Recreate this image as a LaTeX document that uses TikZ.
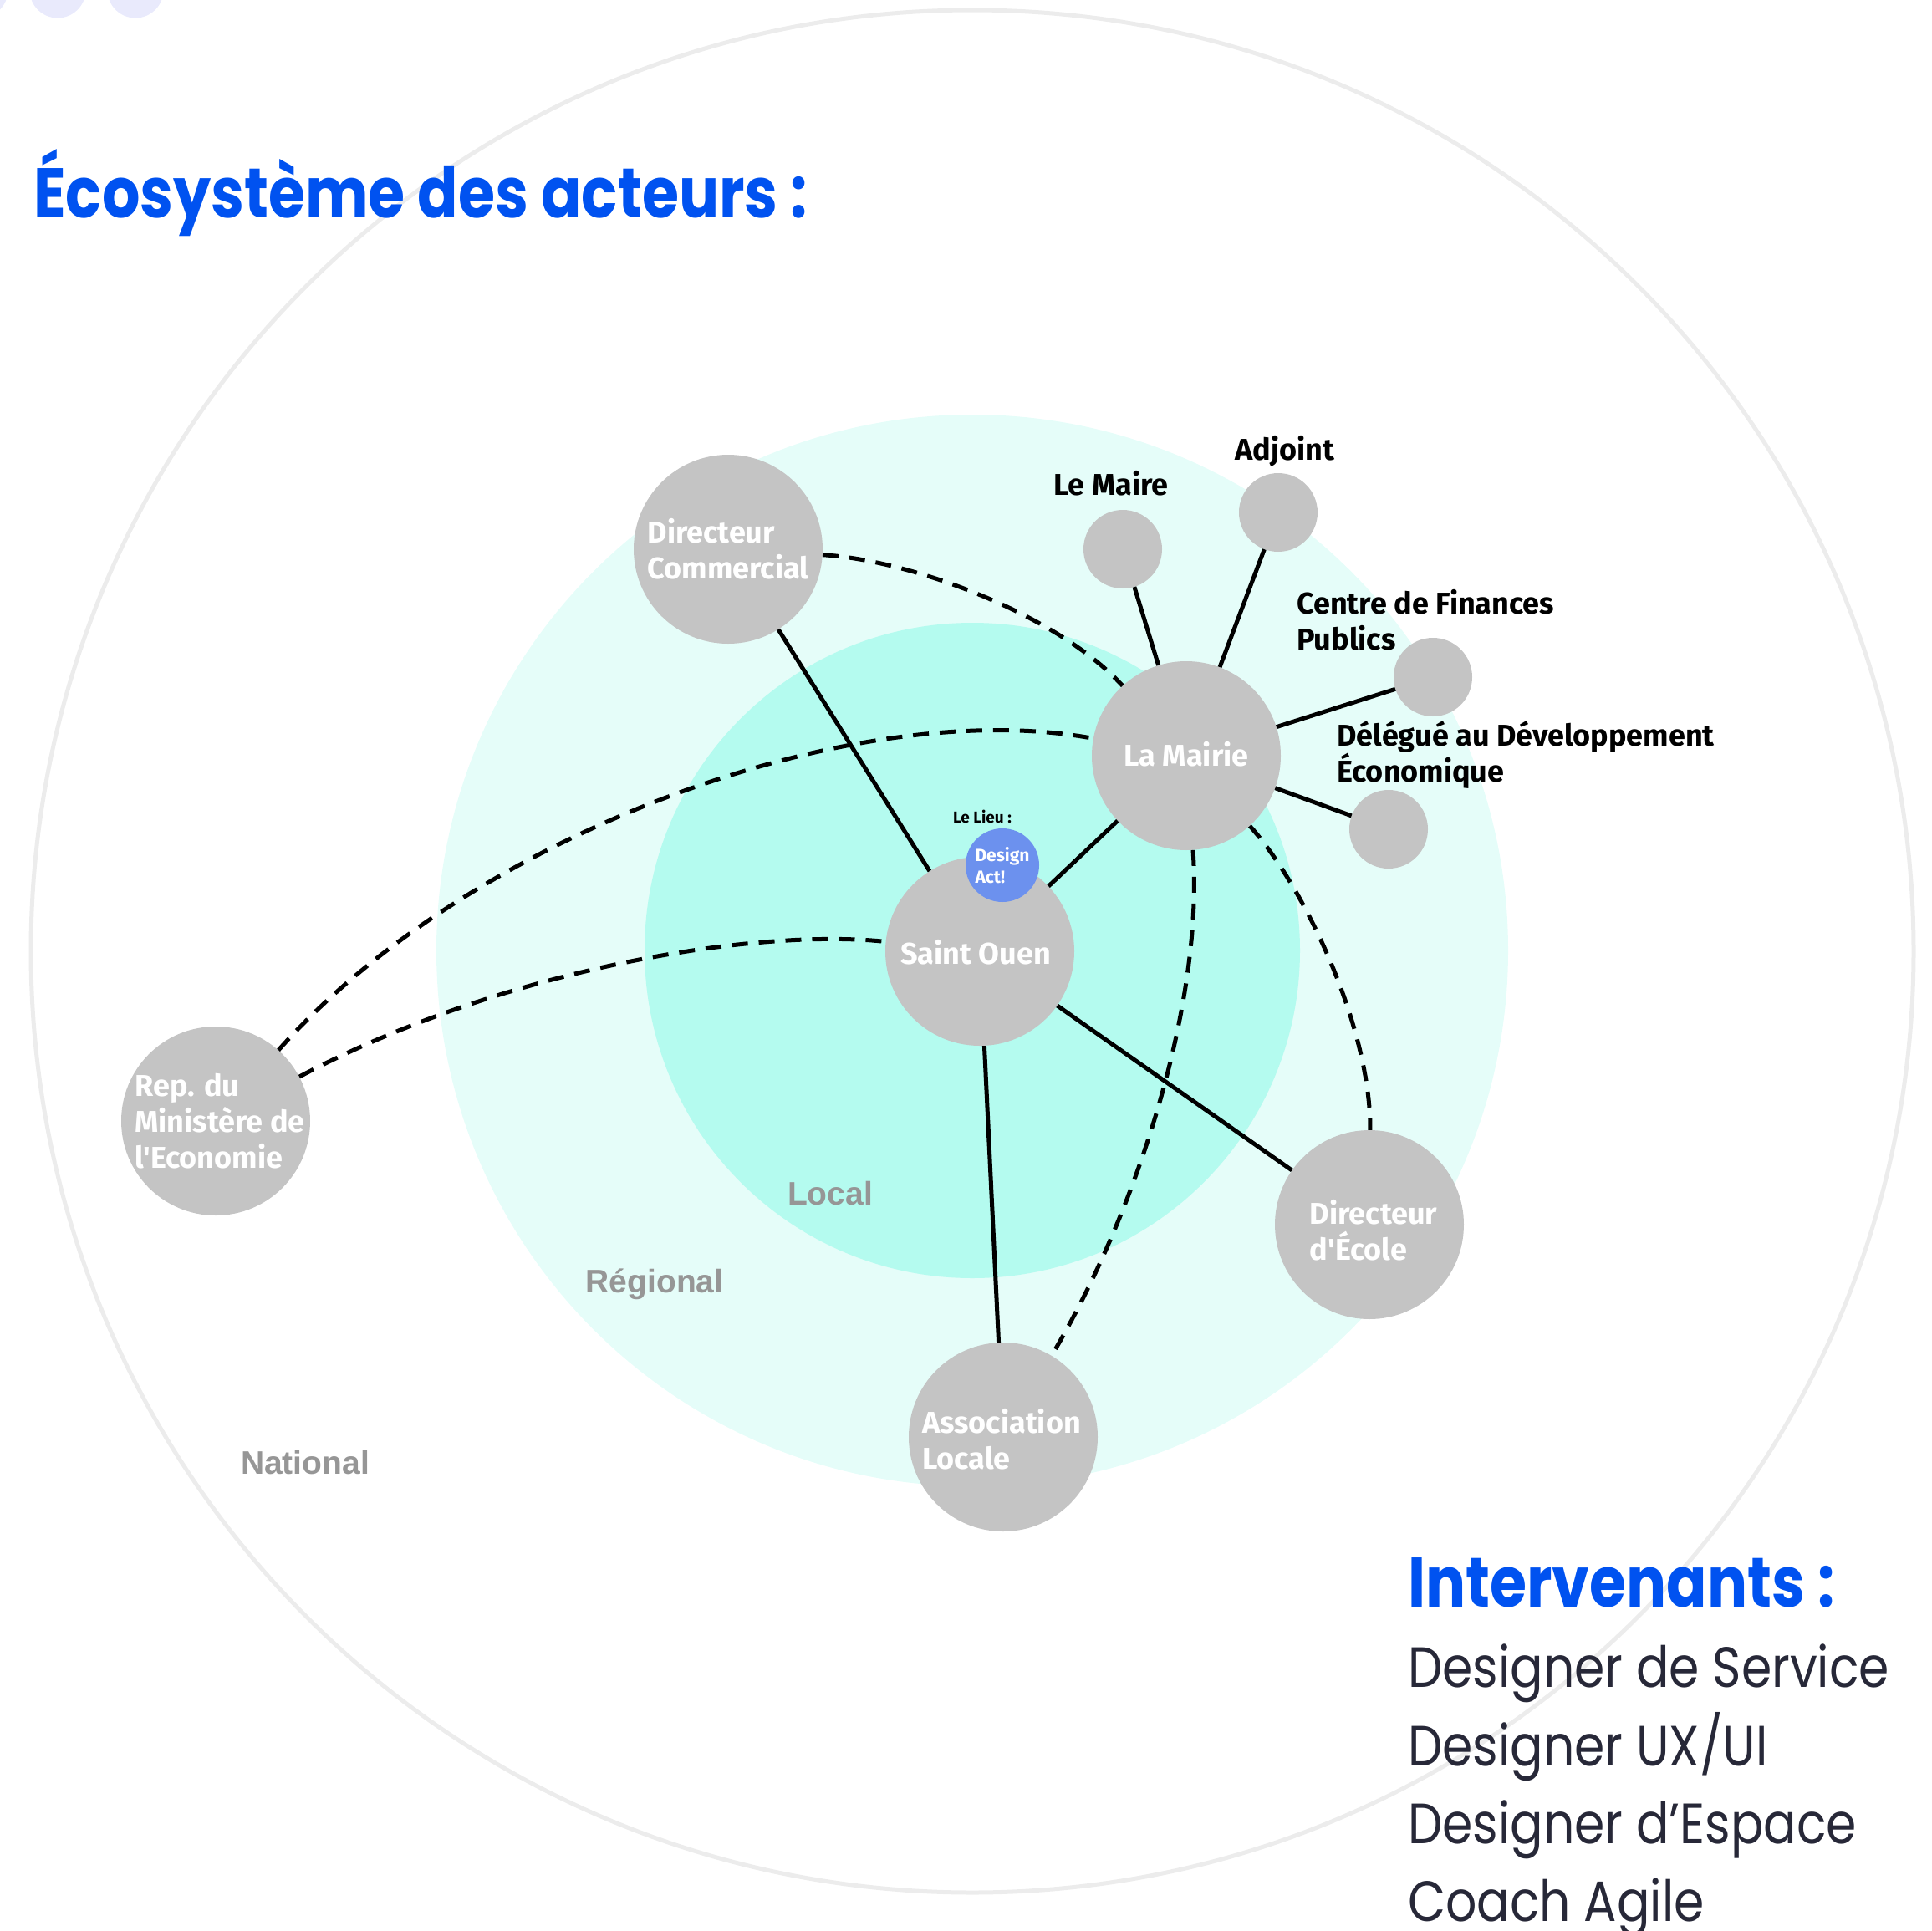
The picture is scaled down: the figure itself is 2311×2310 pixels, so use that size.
\documentclass[tikz,border=0pt]{standalone}
\usepackage{fontspec}
\newfontfamily\lblfont{Fira Sans}
\newfontfamily\zonefont{Liberation Sans}
\newfontfamily\headfont[FakeStretch=0.85]{Poppins}
\newfontfamily\listfont[FakeStretch=0.86]{Poppins}
\definecolor{nodegray}{RGB}{196,196,196}
\definecolor{regionfill}{RGB}{229,253,249}
\definecolor{localfill}{RGB}{180,251,239}
\definecolor{ringgray}{RGB}{236,236,236}
\definecolor{zonegray}{RGB}{150,150,150}
\definecolor{lieublue}{RGB}{108,145,238}
\definecolor{headblue}{RGB}{0,82,240}
\definecolor{listnavy}{RGB}{39,40,56}
\definecolor{lavender}{RGB}{233,234,252}
\begin{document}
\begin{tikzpicture}[x=1pt,y=1pt,
  actor/.style={circle, fill=nodegray, minimum size=226pt, inner sep=0pt},
  minor/.style={circle, fill=nodegray, minimum size=94pt, inner sep=0pt},
  lieu/.style={circle, fill=lieublue, minimum size=88pt, inner sep=0pt},
  inlabel/.style={text=white, align=left, inner sep=0pt, font=\lblfont\bfseries\fontsize{36}{43}\selectfont},
  outlabel/.style={text=black, align=left, inner sep=0pt, font=\lblfont\bfseries\fontsize{36}{43}\selectfont},
  zone/.style={text=zonegray, inner sep=0pt, font=\zonefont\bfseries\fontsize{39}{44}\selectfont},
  heading/.style={anchor=base west, inner sep=0pt, text=headblue, font=\headfont\bfseries\fontsize{84}{90}\selectfont},
  listitem/.style={anchor=base west, inner sep=0pt, text=listnavy, font=\listfont\fontsize{68}{94}\selectfont},
  tie/.style={line width=5pt},
  loose/.style={line width=5pt, dash pattern=on 19pt off 13pt}]
\useasboundingbox (0,0) rectangle (2311,-2310);
\clip (0,0) rectangle (2311,-2310);

% decorative dots along the top edge
\foreach \cx in {-24,69,162}
  \fill[lavender] (\cx,12) circle (33.5);

% concentric zones
\draw[ringgray, line width=5pt] (1163,-1138) circle (1126);
\fill[regionfill] (1163,-1137) circle (641);
\fill[localfill] (1163,-1137) circle (392);

% zone names
\node[zone] (zlocal) at (993,-1428) {Local};
\node[zone] (zregion) at (783,-1536) {Régional};
\node[zone] (znation) at (365,-1750) {National};

% actors
\node[actor] (dc) at (871,-657) {};
\node[actor] (lm) at (1419,-904) {};
\node[actor] (so) at (1172,-1138) {};
\node[actor] (rep) at (258,-1341) {};
\node[actor] (de) at (1638,-1465) {};
\node[actor] (al) at (1200,-1719) {};

\node[minor] (maire) at (1343,-657) {};
\node[minor] (adj) at (1529,-613) {};
\node[minor] (cfp) at (1714,-810) {};
\node[minor] (deleg) at (1661,-992) {};

% direct links
\draw[tie] (so) -- (dc);
\draw[tie] (so) -- (lm);
\draw[tie] (so) -- (al);
\draw[tie] (so) -- (de);
\draw[tie] (lm) -- (maire);
\draw[tie] (lm) -- (adj);
\draw[tie] (lm) -- (cfp);
\draw[tie] (lm) -- (deleg);

% indirect links
\draw[loose] (dc) .. controls (1090,-670) and (1265,-735) .. (lm);
\draw[loose] (rep) .. controls (560,-1000) and (1020,-830) .. (lm);
\draw[loose] (rep) .. controls (600,-1160) and (900,-1110) .. (so);
\draw[loose] (lm) .. controls (1440,-1200) and (1360,-1450) .. (al);
\draw[loose] (lm) .. controls (1560,-1060) and (1640,-1230) .. (de);

% actor names
\node[inlabel] (tdc) at (dc) {Directeur\\Commercial};
\node[inlabel] (tlm) at (1419,-902) {La Mairie};
\node[inlabel] (tso) at (1167,-1139) {Saint Ouen};
\node[inlabel] (trep) at (263,-1341) {Rep. du\\Ministère de\\l'Economie};
\node[inlabel] (tde) at (1643,-1472) {Directeur\\d'École};
\node[inlabel] (tal) at (1198,-1722) {Association\\Locale};

\node[outlabel, anchor=base west] (tmaire) at (1260,-592) {Le Maire};
\node[outlabel, anchor=base west] (tadj) at (1477,-550) {Adjoint};
\node[outlabel, anchor=west] (tcfp) at (1551,-742) {Centre de Finances\\Publics};
\node[outlabel, anchor=west] (tdeleg) at (1599,-903) {Délégué au Développement\\Économique};

% the venue
\node[lieu] (da) at (1199,-1035) {};
\node[inlabel, font=\lblfont\bfseries\fontsize{21}{26}\selectfont] (tda) at (da) {Design\\Act!};
\node[outlabel, font=\lblfont\bfseries\fontsize{19}{22}\selectfont] (tlieu) at (1175,-977) {Le Lieu :};

% headings
\node[heading] (title) at (40,-260) {Écosystème des acteurs :};
\node[heading] (team) at (1684,-1922) {Intervenants :};
\node[listitem] (r1) at (1684,-2018) {Designer de Service};
\node[listitem] (r2) at (1684,-2112) {Designer UX/UI};
\node[listitem] (r3) at (1684,-2205) {Designer d’Espace};
\node[listitem] (r4) at (1684,-2298) {Coach Agile};
\end{tikzpicture}
\end{document}
